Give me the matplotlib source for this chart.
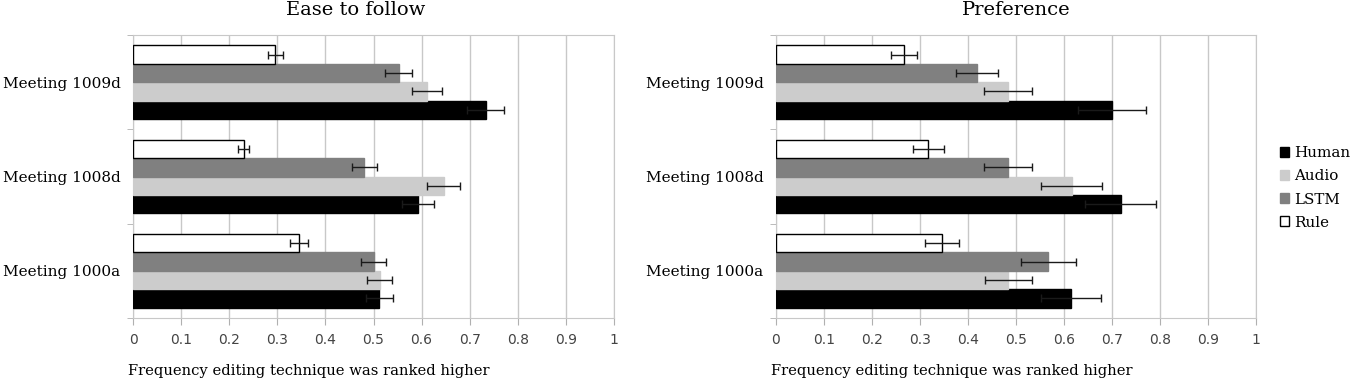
import numpy as np
import matplotlib.pyplot as plt

meetings = ["Meeting 1009d", "Meeting 1008d", "Meeting 1000a"]
methods = ["Human", "Audio", "LSTM", "Rule"]
colors = {"Human": "#000000", "Audio": "#cccccc", "LSTM": "#808080", "Rule": "#ffffff"}

# Ease to follow (rows follow meetings)
ease = {
    "Human": [0.733, 0.593, 0.512],
    "Audio": [0.612, 0.646, 0.513],
    "LSTM": [0.552, 0.481, 0.500],
    "Rule": [0.296, 0.230, 0.345],
}
ease_err = {
    "Human": [0.039, 0.033, 0.028],
    "Audio": [0.031, 0.034, 0.026],
    "LSTM": [0.028, 0.026, 0.026],
    "Rule": [0.016, 0.012, 0.019],
}

# Preference
pref = {
    "Human": [0.700, 0.718, 0.615],
    "Audio": [0.483, 0.616, 0.484],
    "LSTM": [0.419, 0.483, 0.567],
    "Rule": [0.266, 0.317, 0.346],
}
pref_err = {
    "Human": [0.071, 0.074, 0.063],
    "Audio": [0.050, 0.063, 0.049],
    "LSTM": [0.043, 0.050, 0.057],
    "Rule": [0.027, 0.032, 0.035],
}

xticks = [0, 0.1, 0.2, 0.3, 0.4, 0.5, 0.6, 0.7, 0.8, 0.9, 1]
xtick_labels = ["0", "0.1", "0.2", "0.3", "0.4", "0.5", "0.6", "0.7", "0.8", "0.9", "1"]
xlabel = "Frequency editing technique was ranked higher"

serif = "DejaVu Serif"
W, H = 1356, 381
fig = plt.figure(figsize=(W / 100, H / 100), dpi=100)


def draw(ax, vals, errs):
    n = len(meetings)
    bh = 0.195
    centers = np.arange(n)[::-1] + 0.5  # 1009d on top
    # Human lowest in each group, Rule on top
    for j, m in enumerate(methods):
        y = centers - 1.5 * bh + j * bh
        ax.barh(y, vals[m], height=bh, color=colors[m],
                edgecolor="#000000" if m == "Rule" else colors[m], linewidth=1.0, zorder=3)
        ax.errorbar(vals[m], y, xerr=errs[m], fmt="none", ecolor="#1a1a1a",
                    elinewidth=1.0, capsize=3, capthick=1.0, zorder=4)
    ax.set_xlim(0, 1)
    ax.set_ylim(0, n)
    ax.set_xticks(xticks)
    ax.set_xticklabels(xtick_labels, fontsize=10, color="#444444")
    ax.set_yticks(centers)
    ax.set_yticklabels(meetings, family=serif, fontsize=11)
    ax.tick_params(axis="y", length=0, pad=9)
    ax.set_yticks(np.arange(n + 1), minor=True)
    ax.tick_params(axis="y", which="minor", length=4, color="#b0b0b0")
    ax.tick_params(axis="x", length=5, color="#b0b0b0", pad=6)
    ax.grid(axis="x", color="#c8c8c8", linewidth=1.0, zorder=0)
    for s in ax.spines.values():
        s.set_color("#c8c8c8")
    ax.set_axisbelow(True)
    ax.set_xlabel(xlabel, family=serif, fontsize=10.6, loc="left", labelpad=12)
    ax.xaxis.label.set_position((-0.01, 0))


ax1 = fig.add_axes([133 / W, 1 - 318 / H, 481 / W, 283 / H])
ax2 = fig.add_axes([776 / W, 1 - 318 / H, 480 / W, 283 / H])
draw(ax1, ease, ease_err)
draw(ax2, pref, pref_err)

fig.text(356 / W, 1 - 10 / H, "Ease to follow", family=serif, fontsize=14, ha="center", va="center")
fig.text(1016 / W, 1 - 10 / H, "Preference", family=serif, fontsize=14, ha="center", va="center")

handles = [plt.Rectangle((0, 0), 1, 1, facecolor=colors[m],
                         edgecolor="#000000" if m == "Rule" else colors[m]) for m in methods]
fig.legend(handles, methods, loc="center left", bbox_to_anchor=(1274 / W, 1 - 188 / H),
           frameon=False, prop={"family": serif, "size": 10.9}, handlelength=0.6,
           handleheight=0.6, handletextpad=0.35, labelspacing=0.6, borderaxespad=0)

fig.savefig("out.png", dpi=100)
